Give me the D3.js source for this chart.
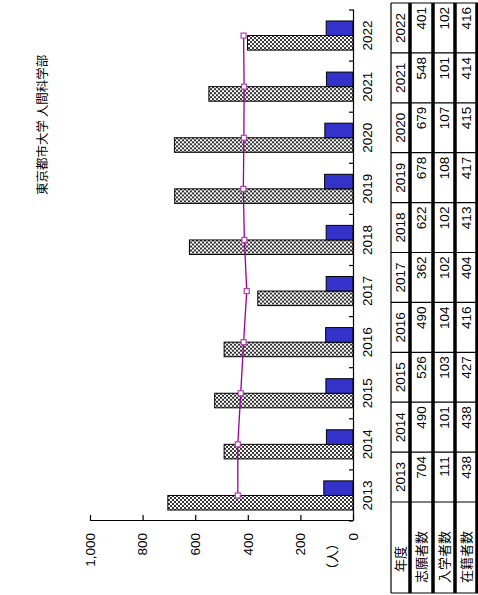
<!DOCTYPE html>
<html><head><meta charset="utf-8">
<script src="https://cdn.jsdelivr.net/npm/d3@7"></script>
<style>html,body{margin:0;padding:0;background:#fff;}svg{display:block;}</style>
</head><body>
<script>
const years = ['2013','2014','2015','2016','2017','2018','2019','2020','2021','2022'];
const applicants = [704,490,526,490,362,622,678,679,548,401];
const enrolled = [111,101,103,104,102,102,108,107,101,102];
const students = [438,438,427,416,404,413,417,415,414,416];
const rowLabels = ['志願者数','入学者数','在籍者数'];
const headerLabel = '年度';
const yTicks = [0,200,400,600,800,1000];
const title = '東京都市大学 人間科学部';
const unitLabel = '（人）';

const FONT = '"Liberation Sans", Arial, "Noto Sans CJK JP", sans-serif';
const JFONT = '"Noto Sans CJK JP", sans-serif';

const svg = d3.select('body').append('svg').attr('width',478).attr('height',595);
svg.append('rect').attr('width',478).attr('height',595).attr('fill','#fff');
const defs = svg.append('defs');
const pat = defs.append('pattern').attr('id','chk').attr('width',4).attr('height',4).attr('patternUnits','userSpaceOnUse');
pat.append('rect').attr('width',4).attr('height',4).attr('fill','#fff');
pat.append('rect').attr('width',2).attr('height',2).attr('fill','#333');
pat.append('rect').attr('x',2).attr('y',2).attr('width',2).attr('height',2).attr('fill','#333');

// whole chart drawn unrotated (595 wide x 478 tall), then rotated -90deg
const g = svg.append('g').attr('transform','translate(0,595) rotate(-90)');

const x = d3.scaleBand().domain(years).range([74,585]).padding(0);
const y = d3.scaleLinear().domain([0,1000]).range([353,90]);
const bw = x.bandwidth();
const x1 = d3.scaleBand().domain(['a','e']).range([bw*0.215, bw*0.785]).padding(0);

// title
g.append('text').attr('x',400).attr('y',47).attr('font-family',JFONT).attr('font-size',12.5)
  .attr('fill','#000').text(title);

// bars
const cat = g.selectAll('g.cat').data(years).join('g').attr('class','cat')
  .attr('transform',d=>`translate(${x(d)},0)`);
cat.append('rect').attr('x',x1('a')).attr('width',x1.bandwidth())
  .attr('y',(d,i)=>y(applicants[i])).attr('height',(d,i)=>y(0)-y(applicants[i]))
  .attr('fill','url(#chk)').attr('stroke','#000').attr('stroke-width',1);
cat.append('rect').attr('x',x1('e')).attr('width',x1.bandwidth())
  .attr('y',(d,i)=>y(enrolled[i])).attr('height',(d,i)=>y(0)-y(enrolled[i]))
  .attr('fill','#3333cc').attr('stroke','#000').attr('stroke-width',1);

// line
const line = d3.line().x((d,i)=>x(years[i])+bw/2).y(d=>y(d));
g.append('path').attr('d',line(students)).attr('fill','none').attr('stroke','#990099').attr('stroke-width',1.3);
g.selectAll('rect.mk').data(students).join('rect').attr('class','mk')
  .attr('x',(d,i)=>x(years[i])+bw/2-2.5).attr('y',d=>y(d)-2.5).attr('width',5).attr('height',5)
  .attr('fill','#fff').attr('stroke','#aa44aa').attr('stroke-width',1.2);

// value axis
const ya = g.append('g').attr('transform','translate(74,0)')
  .call(d3.axisLeft(y).tickValues(yTicks).tickFormat(d3.format(',')).tickSizeInner(-6).tickSizeOuter(0).tickPadding(12));
ya.select('.domain').attr('stroke','#000').attr('stroke-width',1.2);
ya.selectAll('.tick line').attr('stroke','#000').attr('stroke-width',1.2);
ya.selectAll('.tick text').attr('font-family',FONT).attr('font-size',13.5).attr('fill','#000');
g.append('text').attr('x',58).attr('y',337).attr('text-anchor','end').attr('font-family',JFONT)
  .attr('font-size',13).attr('fill','#000').text(unitLabel);

// category axis
const xa = g.append('g').attr('transform','translate(0,353)')
  .call(d3.axisBottom(x).tickSize(0).tickPadding(9));
xa.select('.domain').attr('stroke','#000').attr('stroke-width',1.2);
xa.selectAll('.tick text').attr('font-family',FONT).attr('font-size',13.5).attr('fill','#000');
const bounds = years.map(d=>x(d)).concat([x(years[years.length-1])+bw]);
g.selectAll('line.ct').data(bounds).join('line').attr('class','ct')
  .attr('x1',d=>d).attr('x2',d=>d).attr('y1',353).attr('y2',349).attr('stroke','#000').attr('stroke-width',1.2);

// data table
const tx0 = 2, tLab = 93, tx1 = 592;
const colW = (tx1 - tLab) / years.length;
const rowsY = [391,410,433,455,477];
const tcol = d => tLab + years.indexOf(d)*colW;
const tb = g.append('g');
tb.selectAll('line.cs').data([tx0, tLab].concat(years.map((d,i)=>tLab+(i+1)*colW))).join('line')
  .attr('x1',d=>d).attr('x2',d=>d).attr('y1',rowsY[0]).attr('y2',478).attr('stroke','#000').attr('stroke-width',1.2);
tb.selectAll('line.rs').data(rowsY).join('line')
  .attr('x1',tx0).attr('x2',tx1).attr('y1',d=>d).attr('y2',d=>d)
  .attr('stroke','#000').attr('stroke-width',(d,i)=>i===0?1.2:3.5);
tb.append('text').attr('x',36).attr('y',(rowsY[0]+rowsY[1])/2).attr('dy','0.36em').attr('text-anchor','middle')
  .attr('font-family',JFONT).attr('font-size',13).text(headerLabel);
tb.selectAll('text.yh').data(years).join('text').attr('class','yh')
  .attr('x',d=>tcol(d)+colW/2).attr('y',(rowsY[0]+rowsY[1])/2).attr('dy','0.36em').attr('text-anchor','middle')
  .attr('font-family',FONT).attr('font-size',13.5).text(d=>d);
const series = [applicants, enrolled, students];
series.forEach((arr,r)=>{
  const cy = (rowsY[r+1]+rowsY[r+2])/2;
  tb.append('text').attr('x',12).attr('y',cy).attr('dy','0.36em').attr('font-family',JFONT)
    .attr('font-size',13).text(rowLabels[r]);
  tb.selectAll('text.v'+r).data(arr).join('text').attr('class','v'+r)
    .attr('x',(d,i)=>tLab+(i+1)*colW-4).attr('y',cy).attr('dy','0.36em').attr('text-anchor','end')
    .attr('font-family',FONT).attr('font-size',13.5).text(d=>d);
});
</script>
</body></html>
